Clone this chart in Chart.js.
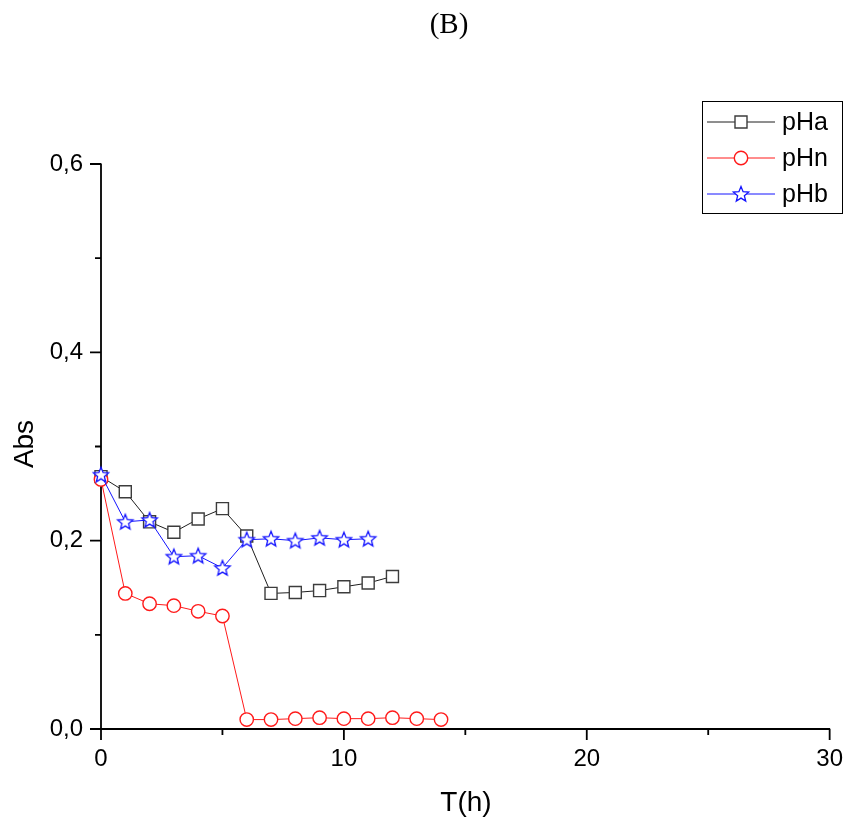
<!DOCTYPE html>
<html>
<head>
<meta charset="utf-8">
<script src="https://cdn.jsdelivr.net/npm/chart.js@4.4.1/dist/chart.umd.min.js"></script>
<style>
  html, body { margin: 0; padding: 0; background: #ffffff; }
  canvas { display: block; }
</style>
</head>
<body>
<canvas id="absChart" width="848" height="820"></canvas>
<script>
// Absorbance over time at three pH conditions
const hours = [0, 1, 2, 3, 4, 5, 6, 7, 8, 9, 10, 11, 12, 13, 14];
const absPHa = [0.268, 0.252, 0.220, 0.209, 0.223, 0.234, 0.205, 0.144, 0.145, 0.147, 0.151, 0.155, 0.162];
const absPHn = [0.265, 0.144, 0.133, 0.131, 0.125, 0.120, 0.010, 0.010, 0.011, 0.012, 0.011, 0.011, 0.012, 0.011, 0.010];
const absPHb = [0.270, 0.220, 0.222, 0.183, 0.184, 0.171, 0.201, 0.202, 0.200, 0.203, 0.201, 0.202];
const seriesNames = ['pHa', 'pHn', 'pHb'];
const xMajorTicks = [0, 10, 20, 30];
const yMajorTicks = [0, 0.2, 0.4, 0.6];

const SANS = '"Liberation Sans", Arial, sans-serif';
const SERIF = '"Liberation Serif", "Times New Roman", serif';
const COLORS = { pHa: '#1e1e1e', pHn: '#ff1a1a', pHb: '#1414ff' };
const MARKER_EDGE = { pHa: '#3c3c3c', pHn: '#ff1a1a', pHb: '#1414ff' };

function toPoints(values) {
  return values.map((v, i) => ({ x: hours[i], y: v }));
}

// Hollow five-pointed star used as a point style
function makeStar(outer, color) {
  const size = Math.ceil(outer * 2 + 4);
  const cv = document.createElement('canvas');
  cv.width = size; cv.height = size;
  const c = cv.getContext('2d');
  const cx = size / 2, cy = size / 2 + 0.6;
  const inner = outer * 0.44;
  c.beginPath();
  for (let k = 0; k < 10; k++) {
    const r = k % 2 === 0 ? outer : inner;
    const a = -Math.PI / 2 + k * Math.PI / 5;
    const px = cx + r * Math.cos(a), py = cy + r * Math.sin(a);
    if (k === 0) c.moveTo(px, py); else c.lineTo(px, py);
  }
  c.closePath();
  c.fillStyle = '#ffffff';
  c.fill();
  c.lineWidth = 1.3;
  c.strokeStyle = color;
  c.stroke();
  return cv;
}
const starImg = makeStar(8, COLORS.pHb);

function isMajor(v, list) {
  return list.some(t => Math.abs(t - v) < 1e-9);
}

// Axis lines, major/minor ticks, heading, axis titles and legend
const axesFrame = {
  id: 'axesFrame',
  beforeDatasetsDraw(chart) {
    const { ctx, scales: { x, y } } = chart;
    const x0 = x.getPixelForValue(0), x1 = x.getPixelForValue(30);
    const y0 = y.getPixelForValue(0), y1 = y.getPixelForValue(0.6);
    ctx.save();
    ctx.strokeStyle = '#000';
    ctx.lineWidth = 1.8;
    ctx.beginPath();
    ctx.moveTo(x0, y0); ctx.lineTo(x1 + 0.5, y0);
    ctx.moveTo(x0, y0); ctx.lineTo(x0, y1 - 0.5);
    for (let v = 0; v <= 30 + 1e-9; v += 5) {
      const px = x.getPixelForValue(v);
      const len = isMajor(v, xMajorTicks) ? 11 : 6;
      ctx.moveTo(px, y0); ctx.lineTo(px, y0 + len);
    }
    for (let k = 0; k <= 6; k++) {
      const v = k / 10;
      const py = y.getPixelForValue(v);
      const len = isMajor(v, yMajorTicks) ? 11 : 6;
      ctx.moveTo(x0, py); ctx.lineTo(x0 - len, py);
    }
    ctx.stroke();
    ctx.restore();
  },
  afterDraw(chart) {
    const { ctx } = chart;
    ctx.save();
    // heading
    ctx.fillStyle = '#000';
    ctx.font = '29px ' + SERIF;
    ctx.textAlign = 'center';
    ctx.textBaseline = 'middle';
    ctx.fillText('(B)', 449, 25);

    // axis titles
    ctx.font = '28px ' + SANS;
    ctx.fillText('T(h)', 466, 803);
    ctx.save();
    ctx.translate(25, 444);
    ctx.rotate(-Math.PI / 2);
    ctx.fillText('Abs', 0, 0);
    ctx.restore();

    // legend
    const bx = 702.5, by = 101.5, bw = 140, bh = 112;
    ctx.lineWidth = 1;
    ctx.strokeStyle = '#000';
    ctx.strokeRect(bx, by, bw, bh);
    const rows = [122, 158, 194];
    ctx.font = '25px ' + SANS;
    ctx.textAlign = 'left';
    seriesNames.forEach((name, i) => {
      const ry = rows[i];
      ctx.strokeStyle = COLORS[name];
      ctx.lineWidth = 1;
      ctx.beginPath();
      ctx.moveTo(707, ry); ctx.lineTo(775, ry);
      ctx.stroke();
      const mx = 741;
      ctx.lineWidth = 1.4;
      ctx.strokeStyle = MARKER_EDGE[name];
      ctx.fillStyle = '#fff';
      if (name === 'pHa') {
        ctx.beginPath(); ctx.rect(mx - 6, ry - 6, 12, 12); ctx.fill(); ctx.stroke();
      } else if (name === 'pHn') {
        ctx.beginPath(); ctx.arc(mx, ry, 6.7, 0, Math.PI * 2); ctx.fill(); ctx.stroke();
      } else {
        ctx.drawImage(starImg, mx - starImg.width / 2, ry - starImg.height / 2);
      }
      ctx.fillStyle = '#000';
      ctx.fillText(name, 782, ry + 1);
    });
    ctx.restore();
  }
};

const common = { borderWidth: 1, tension: 0, clip: false, pointBorderWidth: 1.4, pointBackgroundColor: '#ffffff' };

new Chart(document.getElementById('absChart'), {
  type: 'line',
  data: {
    datasets: [
      Object.assign({}, common, {
        label: seriesNames[0], data: toPoints(absPHa), order: 3,
        borderColor: COLORS.pHa, pointBorderColor: MARKER_EDGE.pHa,
        pointStyle: 'rect', pointRadius: 8.5
      }),
      Object.assign({}, common, {
        label: seriesNames[1], data: toPoints(absPHn), order: 2,
        borderColor: COLORS.pHn, pointBorderColor: MARKER_EDGE.pHn,
        pointStyle: 'circle', pointRadius: 6.7
      }),
      Object.assign({}, common, {
        label: seriesNames[2], data: toPoints(absPHb), order: 1,
        borderColor: COLORS.pHb, pointBorderColor: MARKER_EDGE.pHb,
        pointStyle: starImg, pointRadius: 8
      })
    ]
  },
  options: {
    responsive: false,
    animation: false,
    devicePixelRatio: 1,
    layout: { padding: { top: 164, right: 16, bottom: 0, left: 0 } },
    plugins: { legend: { display: false }, tooltip: { enabled: false }, title: { display: false } },
    scales: {
      x: {
        type: 'linear', min: 0, max: 30,
        grid: { drawOnChartArea: false, drawTicks: true, tickLength: 11, color: 'rgba(0,0,0,0)' },
        border: { display: false },
        ticks: {
          stepSize: 5, padding: 5, color: '#000', maxRotation: 0, autoSkip: false,
          font: { family: SANS, size: 24 },
          callback: v => isMajor(v, xMajorTicks) ? String(v) : ''
        },
        afterFit: s => { s.height = 91; }
      },
      y: {
        type: 'linear', min: 0, max: 0.6,
        grid: { drawOnChartArea: false, drawTicks: true, tickLength: 11, color: 'rgba(0,0,0,0)' },
        border: { display: false },
        ticks: {
          stepSize: 0.1, padding: 7, color: '#000', autoSkip: false,
          font: { family: SANS, size: 24 },
          callback: v => isMajor(v, yMajorTicks) ? v.toFixed(1).replace('.', ',') : ''
        },
        afterFit: s => { s.width = 101; }
      }
    }
  },
  plugins: [axesFrame]
});
</script>
</body>
</html>
